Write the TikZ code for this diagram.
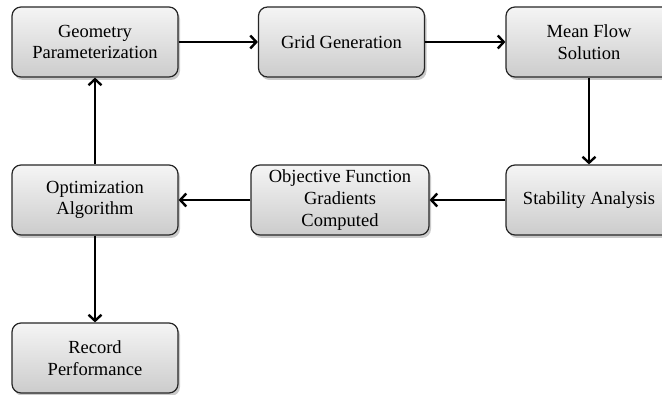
\documentclass[tikz,border=0pt]{standalone}
\usepackage{fontspec}
\setmainfont{Liberation Serif}
\usetikzlibrary{arrows.meta,shadows}

\tikzset{
  stepbox/.style={draw=black!85, line width=1.2pt, rounded corners=9pt,
    top color=black!4, bottom color=black!20,
    drop shadow={shadow xshift=2pt, shadow yshift=-3pt, opacity=0.35, fill=black!60},
    minimum width=166pt, minimum height=70pt, align=center, inner sep=2pt,
    font=\fontsize{18.5pt}{21.7pt}\selectfont},
  flow/.style={line width=2.8pt, -{Straight Barb[length=6pt,width=13pt,line width=2.4pt]}}
}

\begin{document}
\begin{tikzpicture}[x=1pt, y=1pt]
  \useasboundingbox (0,0) rectangle (662,394);

  % first row
  \node[stepbox] (geom) at (95,352) {Geometry\\Parameterization};
  \node[stepbox] (grid) at (341.5,352) {Grid Generation};
  \node[stepbox] (mean) at (589,352) {Mean Flow\\Solution};

  % second row
  \node[stepbox] (stab) at (589,194) {Stability Analysis};
  \node[stepbox, minimum width=178pt] (obj) at (340,194) {Objective Function\\Gradients\\Computed};
  \node[stepbox] (opt) at (95,194) {Optimization\\Algorithm};

  % last one
  \node[stepbox] (rec) at (95,36) {Record\\Performance};

  % connectors
  \draw[flow] (geom) -- (grid);
  \draw[flow] (grid) -- (mean);
  \draw[flow] (mean) -- (stab);
  \draw[flow] (stab) -- (obj);
  \draw[flow] (obj) -- (opt);
  \draw[flow] (opt) -- (geom);
  \draw[flow] (opt) -- (rec);

\end{tikzpicture}
\end{document}
